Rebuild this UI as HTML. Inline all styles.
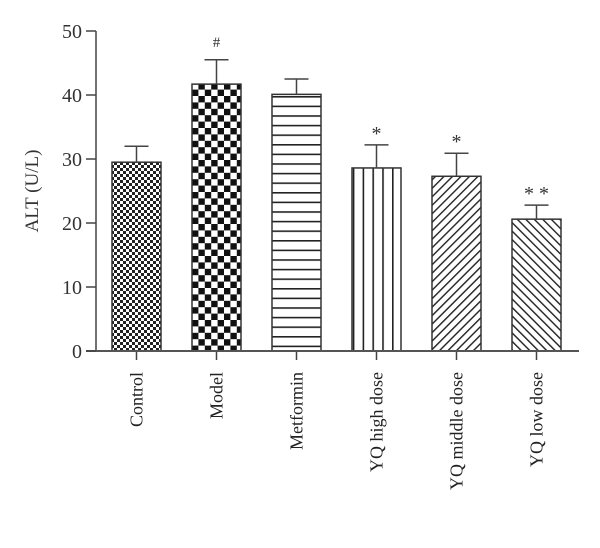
<!DOCTYPE html>
<html><head><meta charset="utf-8"><style>
html,body{margin:0;padding:0;background:#fff;}
svg{display:block;font-family:"Liberation Serif",serif;}
</style></head><body>
<svg id="chart" width="600" height="548" viewBox="0 0 600 548">
<defs>
<pattern id="p0" width="6" height="6" patternUnits="userSpaceOnUse"><rect width="6" height="6" fill="#fff"/><rect width="3" height="3" fill="#222"/><rect x="3" y="3" width="3" height="3" fill="#222"/></pattern>
<pattern id="p1" width="12.8" height="12.8" patternUnits="userSpaceOnUse"><rect width="12.8" height="12.8" fill="#fff"/><rect width="6.4" height="6.4" fill="#111"/><rect x="6.4" y="6.4" width="6.4" height="6.4" fill="#111"/></pattern>
<pattern id="p2" width="10" height="9.6" patternUnits="userSpaceOnUse"><rect width="10" height="9.6" fill="#fff"/><rect y="0" width="10" height="1.6" fill="#222"/></pattern>
<pattern id="p3" width="9.8" height="10" patternUnits="userSpaceOnUse"><rect width="9.8" height="10" fill="#fff"/><rect x="0" width="1.6" height="10" fill="#222"/></pattern>
<pattern id="p4" width="6" height="6" patternUnits="userSpaceOnUse" patternTransform="rotate(45)"><rect width="6" height="6" fill="#fff"/><rect width="1.4" height="6" fill="#222"/></pattern>
<pattern id="p5" width="6" height="6" patternUnits="userSpaceOnUse" patternTransform="rotate(-45)"><rect width="6" height="6" fill="#fff"/><rect width="1.4" height="6" fill="#222"/></pattern>
</defs>
<g id="plot"></g>
</svg>
<script>
const categories = ["Control","Model","Metformin","YQ high dose","YQ middle dose","YQ low dose"];
const values = [29.5, 41.7, 40.1, 28.6, 27.3, 20.6];
const errors = [2.5, 3.8, 2.4, 3.6, 3.6, 2.2];
const marks = ["", "#", "", "*", "*", "* *"];
const yTicks = [0, 10, 20, 30, 40, 50];

const NS = "http://www.w3.org/2000/svg";
const g = document.getElementById("plot");
const x0 = 96, xEnd = 579, y0 = 351, yTop = 31, yMax = 50;
const step = 80, bw = 49, firstLeft = 112;
const y = v => y0 - (v / yMax) * (y0 - yTop);
const xc = i => firstLeft + i * step + bw / 2;
function el(tag, attrs) { const e = document.createElementNS(NS, tag); for (const k in attrs) e.setAttribute(k, attrs[k]); g.appendChild(e); return e; }

// bars
values.forEach((v, i) => {
  const bar = el("rect", {x: xc(i) - bw/2, y: y(v), width: bw, height: y0 - y(v), fill: "url(#p" + i + ")", stroke: "#333", "stroke-width": 1.5});
  
  
  const eb = el("path", {d: `M${xc(i)},${y(v)}V${y(v + errors[i])}M${xc(i) - 12},${y(v + errors[i])}H${xc(i) + 12}`, stroke: "#444", "stroke-width": 1.5, fill: "none"});
  
  
  if (marks[i]) {
    const t = el("text", {x: xc(i), y: y(v + errors[i]) - (marks[i] === "#" ? 13 : 5), "text-anchor": "middle", "font-size": marks[i] === "#" ? 15 : 20, fill: "#333"});
    t.textContent = marks[i];
    
    
  }
  const tk = el("line", {x1: xc(i), x2: xc(i), y1: y0, y2: y0 + 9, stroke: "#444", "stroke-width": 1.5});
  
  
  const lb = el("text", {transform: `translate(${xc(i) + 6},372) rotate(-90)`, "text-anchor": "end", "font-size": 18, fill: "#222"});
  lb.textContent = categories[i];
  
  
});

// axes
const ya = el("line", {x1: x0, x2: x0, y1: yTop, y2: y0, stroke: "#444", "stroke-width": 1.5});


const xa = el("line", {x1: x0 - 10, x2: xEnd, y1: y0, y2: y0, stroke: "#555", "stroke-width": 2});


yTicks.forEach(t => {
  const l = el("line", {x1: x0 - 10, x2: x0, y1: y(t), y2: y(t), stroke: "#444", "stroke-width": 1.5});
  
  
  const tx = el("text", {x: x0 - 14, y: y(t) + 7, "text-anchor": "end", "font-size": 20, fill: "#333"});
  tx.textContent = t;
  
  
});
const yt = el("text", {transform: "translate(38,191) rotate(-90)", "text-anchor": "middle", "font-size": 19, fill: "#333"});
yt.textContent = "ALT (U/L)";


</script>
</body></html>
